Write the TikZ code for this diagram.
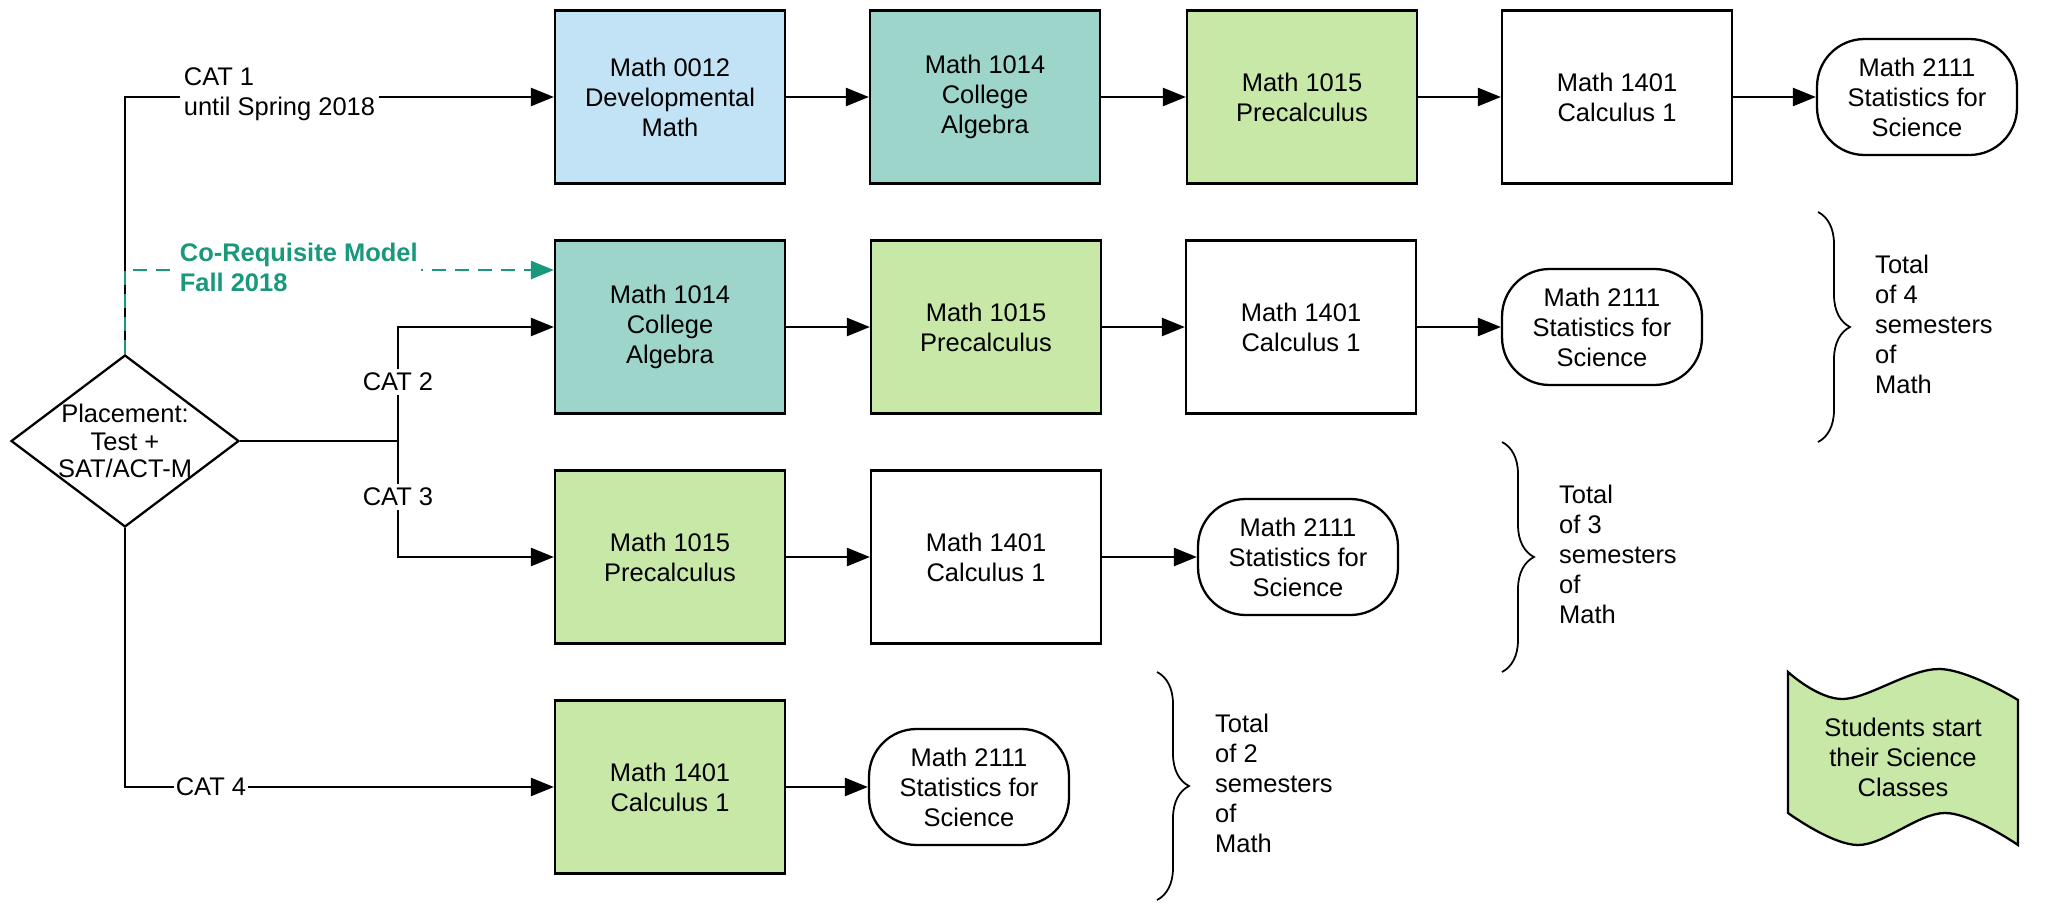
\documentclass[tikz,border=0pt]{standalone}
\usepackage{fontspec}
\setmainfont{Liberation Sans}
\usetikzlibrary{arrows.meta,shapes.geometric,decorations.pathreplacing}
\definecolor{devblue}{RGB}{194,227,245}
\definecolor{algteal}{RGB}{157,213,203}
\definecolor{pregreen}{RGB}{200,232,168}
\definecolor{coreq}{RGB}{26,152,124}
\begin{document}
\begin{tikzpicture}[x=0.02cm,y=-0.02cm]
\tikzstyle{every node}+=[font=\fontsize{14.5}{17.1}\selectfont]
\tikzstyle{course}=[draw, line width=1.3pt, minimum width=4.6cm, minimum height=3.46cm, align=center, inner sep=0pt]
\tikzstyle{stats}=[draw, line width=1.3pt, rectangle, rounded corners=0.95cm, minimum width=4cm, minimum height=2.32cm, align=center, inner sep=0pt]
\tikzstyle{flow}=[line width=1.4pt, -{Triangle[length=0.46cm,width=0.36cm]}]
\tikzstyle{coflow}=[flow, coreq, dash pattern=on 0.28cm off 0.18cm]
\tikzstyle{catlabel}=[fill=white, inner sep=2pt]
\tikzstyle{total}=[decorate, decoration={brace, amplitude=0.64cm}, line width=1pt]
\tikzstyle{totaltext}=[anchor=west, align=left]
\useasboundingbox (0,0) rectangle (2047,902);
\node[diamond, draw, line width=1.3pt, minimum width=4.56cm, minimum height=3.44cm, inner sep=0pt] (place) at (125,441) {};
\node[align=center, font=\fontsize{14.5}{15.6}\selectfont] (placetext) at (place) {Placement:\\Test +\\SAT/ACT-M};
\node[course, fill=devblue] (dev) at (670,97) {Math 0012\\Developmental\\Math};
\node[course, fill=algteal] (alg1) at (985,97) {Math 1014\\College\\Algebra};
\node[course, fill=pregreen] (pre1) at (1302,97) {Math 1015\\Precalculus};
\node[course] (calc1) at (1617,97) {Math 1401\\Calculus 1};
\node[stats] (stat1) at (1917,97) {Math 2111\\Statistics for\\Science};
\node[course, fill=algteal] (alg2) at (670,327) {Math 1014\\College\\Algebra};
\node[course, fill=pregreen] (pre2) at (986,327) {Math 1015\\Precalculus};
\node[course] (calc2) at (1301,327) {Math 1401\\Calculus 1};
\node[stats] (stat2) at (1602,327) {Math 2111\\Statistics for\\Science};
\node[course, fill=pregreen] (pre3) at (670,557) {Math 1015\\Precalculus};
\node[course] (calc3) at (986,557) {Math 1401\\Calculus 1};
\node[stats] (stat3) at (1298,557) {Math 2111\\Statistics for\\Science};
\node[course, fill=pregreen] (calc4) at (670,787) {Math 1401\\Calculus 1};
\node[stats] (stat4) at (969,787) {Math 2111\\Statistics for\\Science};
\draw[flow] (dev) -- (alg1);
\draw[flow] (alg1) -- (pre1);
\draw[flow] (pre1) -- (calc1);
\draw[flow] (calc1) -- (stat1);
\draw[flow] (alg2) -- (pre2);
\draw[flow] (pre2) -- (calc2);
\draw[flow] (calc2) -- (stat2);
\draw[flow] (pre3) -- (calc3);
\draw[flow] (calc3) -- (stat3);
\draw[flow] (calc4) -- (stat4);
\coordinate (split) at (398,441);
\coordinate (coin) at ([yshift=1.14cm]alg2.west);
\draw[flow] (place.north) |- (dev);
\draw[line width=1.4pt] (place.east) -- (split);
\draw[flow] (split) |- (alg2);
\draw[flow] (split) |- (pre3);
\draw[flow] (place.south) |- (calc4);
\draw[coflow] (place.north) |- (coin);
\node[catlabel, align=left, anchor=west] (cat1) at (180,94) {CAT 1\\until Spring 2018};
\node[catlabel, align=left, anchor=west, text=coreq, font=\fontsize{14.5}{17.1}\selectfont\bfseries] (coreqtext) at (176,267) {Co-Requisite Model\\Fall 2018};
\node[catlabel] (cat2) at (398,382) {CAT 2};
\node[catlabel] (cat3) at (398,497) {CAT 3};
\node[catlabel, inner sep=1pt] (cat4) at (211,787) {CAT 4};
\draw[total] (1818,212) -- (1818,442);
\draw[total] (1502,442) -- (1502,672);
\draw[total] (1157,672) -- (1157,900);
\node[totaltext] (tot4) at (1869,324) {Total\\of 4\\semesters\\of\\Math};
\node[totaltext] (tot3) at (1553,554) {Total\\of 3\\semesters\\of\\Math};
\node[totaltext] (tot2) at (1209,783) {Total\\of 2\\semesters\\of\\Math};
\draw[line width=1.3pt, fill=pregreen] plot[smooth, tension=0.6] coordinates {(1788,672) (1843,699) (1939,669) (2018,700)} -- plot[smooth, tension=0.6] coordinates {(2018,845) (1945,813) (1858,845) (1788,813)} -- cycle;
\node[align=center] (sci) at (1903,757) {Students start\\their Science\\Classes};
\end{tikzpicture}
\end{document}
